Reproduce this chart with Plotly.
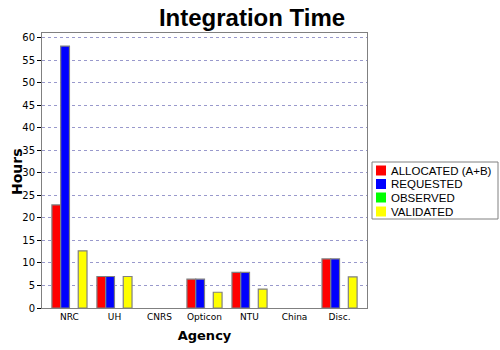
import plotly.graph_objects as go

categories = ["NRC", "UH", "CNRS", "Opticon", "NTU", "China", "Disc."]
allocated = [22.9, 7.0, 0, 6.4, 7.9, 0, 10.9]
requested = [58.2, 7.0, 0, 6.4, 7.9, 0, 10.9]
observed = [0, 0, 0, 0, 0, 0, 0]
validated = [12.7, 7.0, 0, 3.5, 4.2, 0, 6.9]

series = [
    ("ALLOCATED (A+B)", allocated, "#ff0000"),
    ("REQUESTED", requested, "#0000ff"),
    ("OBSERVED", observed, "#00ff00"),
    ("VALIDATED", validated, "#ffff00"),
]

L, R, T, B = 42, 133, 33, 42
W, H = 500, 350
pw, ph = W - L - R, H - T - B

def px_x(p):
    return (p - L) / pw

def px_y(p):
    return (H - B - p) / ph

fig = go.Figure()
for name, vals, col in series:
    fig.add_trace(go.Bar(
        x=categories, y=vals, name=name, showlegend=False,
        marker=dict(color=col,
                    line=dict(color="#808080", width=[1.2 if v > 0 else 0 for v in vals])),
    ))

# manual legend box
fig.add_shape(type="rect", xref="paper", yref="paper",
              x0=px_x(372), x1=px_x(498), y0=px_y(219), y1=px_y(162),
              line=dict(color="#808080", width=1), fillcolor="white")
rows = [170.5, 184, 197.5, 211.5]
for (name, vals, col), ry in zip(series, rows):
    fig.add_shape(type="rect", xref="paper", yref="paper",
                  x0=px_x(376), x1=px_x(386), y0=px_y(ry + 5), y1=px_y(ry - 5),
                  line=dict(width=0), fillcolor=col)
    fig.add_annotation(xref="paper", yref="paper", x=px_x(389), y=px_y(ry),
                       xanchor="left", yanchor="middle", text=name, showarrow=False,
                       font=dict(size=11.5, family="Liberation Sans, Arial, sans-serif", color="black"))

# y-axis title
fig.add_annotation(xref="paper", yref="paper", x=px_x(17), y=px_y(172),
                   xanchor="center", yanchor="middle", text="<b>Hours</b>", textangle=-90,
                   showarrow=False, font=dict(size=14, family="DejaVu Sans, Arial, sans-serif", color="black"))

fig.update_layout(
    width=W, height=H,
    margin=dict(l=L, r=R, t=T, b=B),
    paper_bgcolor="white", plot_bgcolor="white",
    barmode="group", bargap=0.22, bargroupgap=0,
    font=dict(family="DejaVu Sans, Arial, sans-serif", color="black"),
    title=dict(text="<b>Integration Time</b>", x=0.504, xanchor="center",
               y=1 - 18 / H, yanchor="middle", yref="container",
               font=dict(size=24, family="Liberation Sans, Arial, sans-serif", color="black")),
    showlegend=False,
)
fig.update_xaxes(
    range=[-0.61, 6.61], showline=True, linecolor="#808080", linewidth=1, mirror=True,
    ticks="", tickfont=dict(size=9), showgrid=False, automargin=False,
    title=dict(text="<b>Agency</b>", font=dict(size=13), standoff=10),
)
fig.update_yaxes(
    range=[0, 61.1], dtick=5, showline=True, linecolor="#808080", linewidth=1, mirror=True,
    ticks="outside", ticklen=4, tickcolor="black", tickfont=dict(size=10),
    showgrid=True, gridcolor="#9999cc", griddash="3px,3px", gridwidth=1,
    zeroline=False, automargin=False,
)
fig.write_html("out.html")
